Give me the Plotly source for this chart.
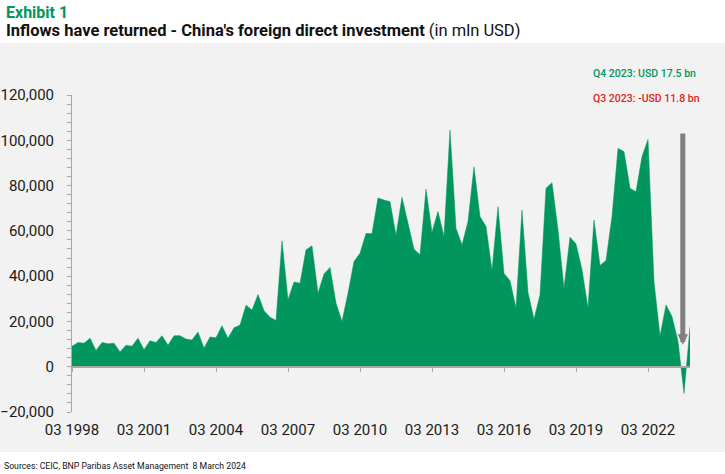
import plotly.graph_objects as go

# ---- data (quarterly FDI, mln USD, Q1 1998 .. Q4 2023) ----
quarter_index = list(range(104))
fdi_values = [
    9000, 10700, 10400, 12600, 7200, 10700, 10100, 10400,
    6500, 9500, 9000, 12600, 7500, 11500, 10700, 13700,
    9500, 13700, 13700, 12200, 11800, 15300, 8200, 13100,
    12800, 18100, 12600, 17200, 18400, 27200, 25000, 31900,
    24700, 21900, 20400, 55600, 29600, 37400, 36900, 51600,
    53400, 32500, 41000, 43800, 28100, 20000, 32500, 46500,
    50100, 58800, 58800, 74500, 73600, 72900, 58100, 74800,
    63400, 51900, 49400, 78400, 59400, 68500, 57500, 104500,
    61200, 53800, 64100, 88300, 66300, 61900, 42500, 70700,
    41200, 38000, 25900, 69200, 32800, 21000, 31800, 78800,
    81300, 60400, 34700, 57200, 54200, 42800, 25900, 64800,
    44700, 46900, 66300, 96400, 95000, 78800, 77300, 92800,
    100400, 37600, 13400, 27300, 22200, 11200, -11800, 17500,
]
tick_positions = [0, 12, 24, 36, 48, 60, 72, 84, 96]
tick_labels = ["03 1998", "03 2001", "03 2004", "03 2007", "03 2010",
               "03 2013", "03 2016", "03 2019", "03 2022"]
y_ticks = [-20000, 0, 20000, 40000, 60000, 80000, 100000, 120000]
note_q4 = "Q4 2023: USD 17.5 bn"
note_q3 = "Q3 2023: -USD 11.8 bn"

GREEN = "#00965e"
RED = "#e2231a"
BG = "#f2f2f2"
AXIS = "#a6a6a6"
FONT = "Roboto, sans-serif"

W, H = 725, 474
L, R, T, B = 72, 35, 95, 62
PW, PH = W - L - R, H - T - B


def px(xp):
    return (xp - L) / PW


def py(yp):
    return (H - B - yp) / PH


fig = go.Figure()
fig.add_trace(go.Scatter(
    x=quarter_index, y=fdi_values, mode="lines", fill="tozeroy",
    line=dict(color=GREEN, width=0.5), fillcolor=GREEN,
    hoverinfo="x+y", showlegend=False,
))
# invisible helper trace so the zero-line axis is drawn
fig.add_trace(go.Scatter(
    x=quarter_index, y=fdi_values, mode="lines", xaxis="x2",
    line=dict(width=0, color="rgba(0,0,0,0)"), hoverinfo="skip", showlegend=False,
))

fig.update_layout(
    width=W, height=H,
    margin=dict(l=L, r=R, t=T, b=B, autoexpand=False),
    paper_bgcolor="white",
    plot_bgcolor="rgba(0,0,0,0)",
    font=dict(family=FONT, color="#1a1a1a"),
    xaxis=dict(
        range=[0, 103], tickvals=tick_positions, ticktext=tick_labels,
        showline=False, showgrid=False, zeroline=False, ticks="",
        tickfont=dict(size=15, color="#1a1a1a"), ticklabelstandoff=7,
        automargin=False,
    ),
    xaxis2=dict(
        range=[0, 103], overlaying="x", anchor="free", position=1 / 7,
        tickvals=tick_positions, showticklabels=False, ticks="outside",
        ticklen=5, tickcolor=AXIS, showline=True, linecolor=AXIS, linewidth=1.5,
        showgrid=False, zeroline=False, automargin=False,
    ),
    yaxis=dict(
        range=[-20000, 120000], tickvals=y_ticks, tickformat=",",
        ticks="outside", ticklen=4, tickcolor=AXIS,
        minor=dict(dtick=4000, ticks="outside", ticklen=4, tickcolor=AXIS),
        showline=True, linecolor=AXIS, linewidth=1,
        showgrid=False, zeroline=False, automargin=False,
        tickfont=dict(size=15, color="#1a1a1a"), ticklabelstandoff=10,
    ),
    shapes=[dict(
        type="rect", xref="paper", yref="paper", layer="below",
        x0=px(0), x1=px(W), y0=py(452), y1=py(43),
        fillcolor=BG, line=dict(width=0),
    )],
)

# arrow pointing at the Q3 2023 dip
fig.add_annotation(
    x=101.8, y=9700, ax=101.8, ay=103700, xref="x", yref="y",
    axref="x", ayref="y", text="", showarrow=True,
    arrowcolor="#808080", arrowwidth=5, arrowhead=2, arrowsize=0.42, standoff=0,
)

fig.add_annotation(
    x=px(591), y=py(73), xref="paper", yref="paper", xanchor="left", yanchor="middle",
    text=note_q4, showarrow=False, font=dict(family=FONT, size=10.5, color=GREEN, weight=500),
)
fig.add_annotation(
    x=px(591), y=py(98), xref="paper", yref="paper", xanchor="left", yanchor="middle",
    text=note_q3, showarrow=False, font=dict(family=FONT, size=10.5, color=RED, weight=500),
)
fig.add_annotation(
    x=px(4), y=py(12), xref="paper", yref="paper", xanchor="left", yanchor="middle",
    text="<b>Exhibit 1</b>", showarrow=False, font=dict(family=FONT, size=16, color=GREEN),
)
fig.add_annotation(
    x=px(4), y=py(31), xref="paper", yref="paper", xanchor="left", yanchor="middle",
    text="<b>Inflows have returned - China's foreign direct investment</b> (in mln USD)",
    showarrow=False, font=dict(family=FONT, size=16.5, color="#111111"),
)
fig.add_annotation(
    x=px(2), y=py(466), xref="paper", yref="paper", xanchor="left", yanchor="middle",
    text="Sources: CEIC, BNP Paribas Asset Management  8 March 2024",
    showarrow=False, font=dict(family=FONT, size=8.7, color="#111111"),
)

fig.write_html("out.html", config={"displayModeBar": False})

# remove the default page margin so the figure sits at the window's top-left
with open("out.html", encoding="utf-8") as f:
    html = f.read()
html = html.replace("<head>", "<head><style>html,body{margin:0;padding:0;overflow:hidden;}</style>", 1)
with open("out.html", "w", encoding="utf-8") as f:
    f.write(html)
